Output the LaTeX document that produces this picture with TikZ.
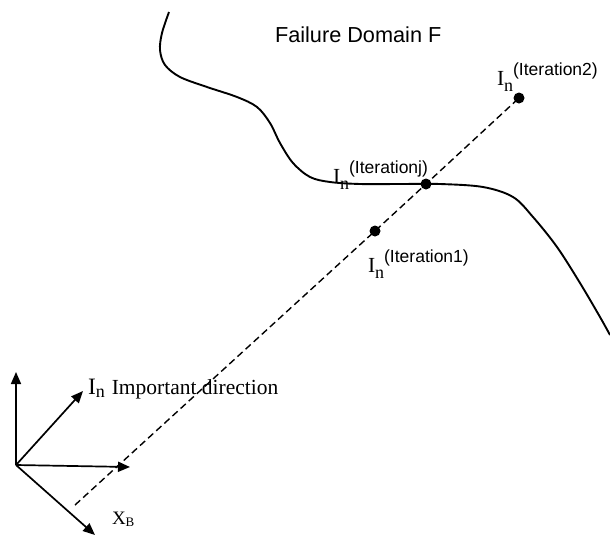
\documentclass[tikz,border=0pt]{standalone}
\usepackage{fontspec}
\setmainfont{Liberation Serif}
\setsansfont{Liberation Sans}
\usetikzlibrary{arrows.meta}

% I_n with a raised sans-serif iteration tag
\newcommand{\itlabel}[1]{%
  {\fontsize{21.5}{21.5}\selectfont I}%
  \raisebox{-6pt}{\fontsize{18}{18}\selectfont n}%
  \raisebox{10pt}{\sffamily\fontsize{17.5}{17.5}\selectfont (#1)}}

\tikzset{
  limit/.style={line width=1.9pt, line join=round},
  ray/.style={line width=1.4pt, dash pattern=on 7pt off 4pt},
  axis/.style={line width=1.7pt, -{Triangle[length=12pt,width=10pt]}},
  dot/.style={circle, fill=black, inner sep=0pt, minimum size=11pt},
  lbl/.style={anchor=base west, inner sep=0pt, outer sep=0pt},
}

\begin{document}
\begin{tikzpicture}[x=1pt,y=-1pt]
\useasboundingbox (0,0) rectangle (610,536);

% limit state surface
\draw[limit] plot[smooth, tension=0.55] coordinates {
  (169,12) (162,33) (160,50) (165,65) (180,77) (207,87) (237,97)
  (257,107) (270,123) (280,143) (293,163) (310,177) (330,182)
  (360,184) (400,184) (440,184) (483,187) (513,197) (533,217)
  (557,247) (580,283) (600,317) (610,335)};

\node[lbl] (fd) at (275,42) {\sffamily\fontsize{21.7}{21.7}\selectfont Failure Domain F};

% points along the important direction
\node[dot] (p2) at (519,98) {};
\node[dot] (pj) at (426,184) {};
\node[dot] (p1) at (375,231) {};
\coordinate (rs) at (75,505);
\draw[ray] (rs) -- (p1.center) -- (pj.center) -- (p2.center);

\node[lbl] (l2) at (497,85) {\itlabel{Iteration2}};
\node[lbl] (lj) at (333,183) {\itlabel{Iterationj}};
\node[lbl] (l1) at (368,272) {\itlabel{Iteration1}};

% coordinate frame
\coordinate (o) at (16,465);
\coordinate (up) at (16,372);
\coordinate (rt) at (130,467);
\coordinate (dg) at (83,391);
\coordinate (dn) at (95,535);
\draw[axis] (o) -- (up);
\draw[axis] (o) -- (rt);
\draw[axis] (o) -- (dg);
\draw[axis] (o) -- (dn);

\node[lbl] (imp) at (88,394) {{\fontsize{23.5}{23.5}\selectfont I}\raisebox{-3pt}{\fontsize{18}{18}\selectfont n}\hspace{7pt}\fontsize{21.5}{21.5}\selectfont Important direction};
\node[lbl] (xb) at (112,524) {{\fontsize{19}{19}\selectfont X}\raisebox{-2pt}{\fontsize{13}{13}\selectfont B}};
\end{tikzpicture}
\end{document}
